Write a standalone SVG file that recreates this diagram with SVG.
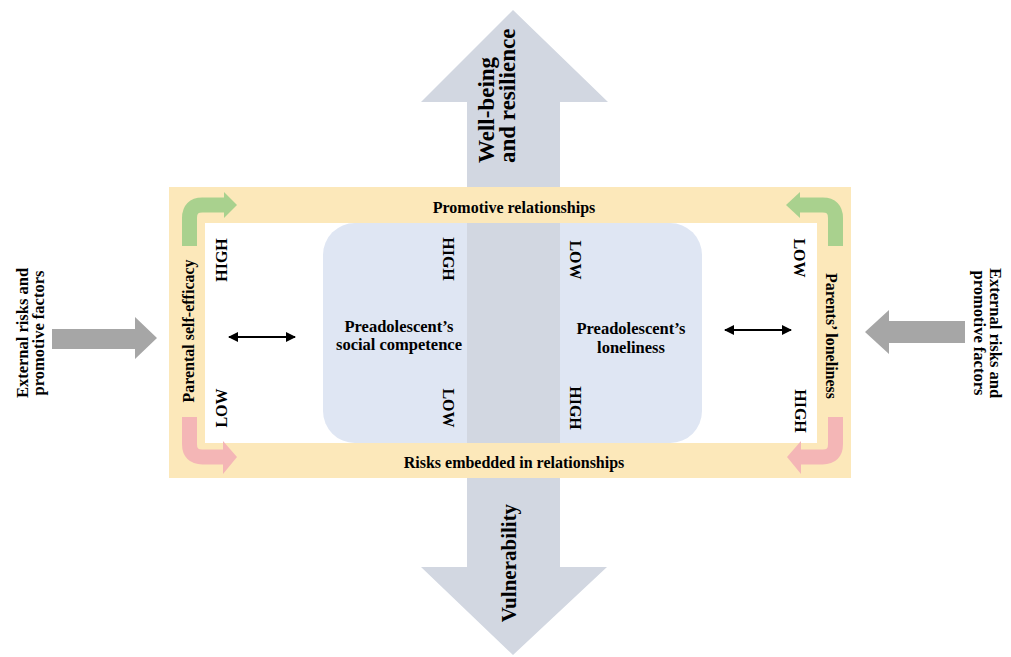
<svg xmlns="http://www.w3.org/2000/svg" width="1011" height="657" viewBox="0 0 1011 657">
  <style>
    .t { font-family: "Liberation Serif", "Times New Roman", serif; font-weight: bold; fill: #000; }
    .s16 { font-size: 16px; }
    .ctr { font-size: 16.5px; }
    .ext-t { font-size: 16.5px; }
    .big { font-size: 23px; }
    .mid { text-anchor: middle; }
    .band { fill: #fce8ba; }
    .flow { fill: #d2d7e1; }
    .ext { fill: #a6a6a6; }
    .up { fill: none; stroke: #a9d18e; stroke-width: 15; }
    .down { fill: none; stroke: #f4b6b6; stroke-width: 15; }
    .dbl { stroke: #000; stroke-width: 2; marker-start: url(#head); marker-end: url(#head); }
  </style>
  <defs>
    <marker id="head" viewBox="0 0 10 10" refX="9" refY="5" markerWidth="5" markerHeight="5" orient="auto-start-reverse" markerUnits="strokeWidth">
      <path d="M0,0 L10,5 L0,10 Z" fill="#000"/>
    </marker>
  </defs>

  <rect width="1011" height="657" fill="#fff"/>

  <!-- upward outcome arrow -->
  <g id="wellbeing">
    <polygon class="flow" points="513,10 608,102 560,102 560,187 467,187 467,102 421,102"/>
    <text class="t big" transform="translate(494,163) rotate(-90)">Well-being</text>
    <text class="t big" transform="translate(515,163) rotate(-90)">and resilience</text>
  </g>

  <!-- downward outcome arrow -->
  <g id="vulnerability">
    <polygon class="flow" points="467,478 560,478 560,567 607,567 513,655 421,567 467,567"/>
    <text class="t mid" style="font-size:21px" transform="translate(516,563) rotate(-90)">Vulnerability</text>
  </g>

  <!-- relationship frame -->
  <g id="frame">
    <rect class="band" x="169" y="187" width="682" height="291"/>
    <rect x="205" y="223" width="612" height="220" fill="#fff"/>
    <text class="t s16 mid" x="514" y="213">Promotive relationships</text>
    <text class="t s16 mid" x="514" y="468">Risks embedded in relationships</text>
  </g>

  <!-- child outcomes -->
  <g id="preadolescent">
    <rect x="323" y="223" width="379" height="220" rx="32" ry="32" fill="#dfe6f3"/>
    <rect class="flow" x="467" y="223" width="93" height="220"/>
  </g>

  <g id="social-competence">
    <text class="t ctr mid" x="399" y="332">Preadolescent’s</text>
    <text class="t ctr mid" x="399" y="350">social competence</text>
    <text class="t s16 mid" transform="translate(443,259) rotate(90)">HIGH</text>
    <text class="t s16 mid" transform="translate(443,408) rotate(90)">LOW</text>
  </g>

  <g id="child-loneliness">
    <text class="t ctr mid" x="631" y="334">Preadolescent’s</text>
    <text class="t ctr mid" x="631" y="353">loneliness</text>
    <text class="t s16 mid" transform="translate(570,260) rotate(90)">LOW</text>
    <text class="t s16 mid" transform="translate(570,408) rotate(90)">HIGH</text>
  </g>

  <g id="self-efficacy">
    <text class="t s16 mid" transform="translate(194,331) rotate(-90)">Parental self-efficacy</text>
    <text class="t s16 mid" transform="translate(227,260) rotate(-90)">HIGH</text>
    <text class="t s16 mid" transform="translate(227,408) rotate(-90)">LOW</text>
  </g>

  <g id="parent-loneliness">
    <text class="t s16 mid" transform="translate(826,336) rotate(90)">Parents’ loneliness</text>
    <text class="t s16 mid" transform="translate(794,258) rotate(90)">LOW</text>
    <text class="t s16 mid" transform="translate(795,411) rotate(90)">HIGH</text>
  </g>

  <g id="external-left">
    <text class="t ext-t mid" transform="translate(28,333) rotate(-90)">External risks and</text>
    <text class="t ext-t mid" transform="translate(44,333) rotate(-90)">promotive factors</text>
  </g>

  <g id="external-right">
    <text class="t ext-t mid" transform="translate(990,333) rotate(90)">External risks and</text>
    <text class="t ext-t mid" transform="translate(974,333) rotate(90)">promotive factors</text>
  </g>

  <!-- connectors -->
  <g id="connectors">
    <polygon class="ext" points="52,329 135,329 135,317 157,338 135,359 135,349 52,349"/>
    <polygon class="ext" points="965,321 889,321 889,310 865,332 889,354 889,343 965,343"/>

    <path class="up" d="M189.5,246 V218 Q189.5,205 202.5,205 H225"/>
    <polygon fill="#a9d18e" points="224,192 237,205 224,218"/>
    <path class="up" d="M835.5,246 V218 Q835.5,205 822.5,205 H799"/>
    <polygon fill="#a9d18e" points="800,192 786,205 800,218"/>

    <path class="down" d="M189.5,417 V444 Q189.5,457 202.5,457 H225"/>
    <polygon fill="#f4b6b6" points="223,441 237,457 223,474"/>
    <path class="down" d="M835.5,417 V444 Q835.5,457 822.5,457 H799"/>
    <polygon fill="#f4b6b6" points="801,441 787,457 801,474"/>

    <line class="dbl" x1="229" y1="337" x2="295" y2="337"/>
    <line class="dbl" x1="725" y1="330" x2="791" y2="330"/>
  </g>
</svg>
